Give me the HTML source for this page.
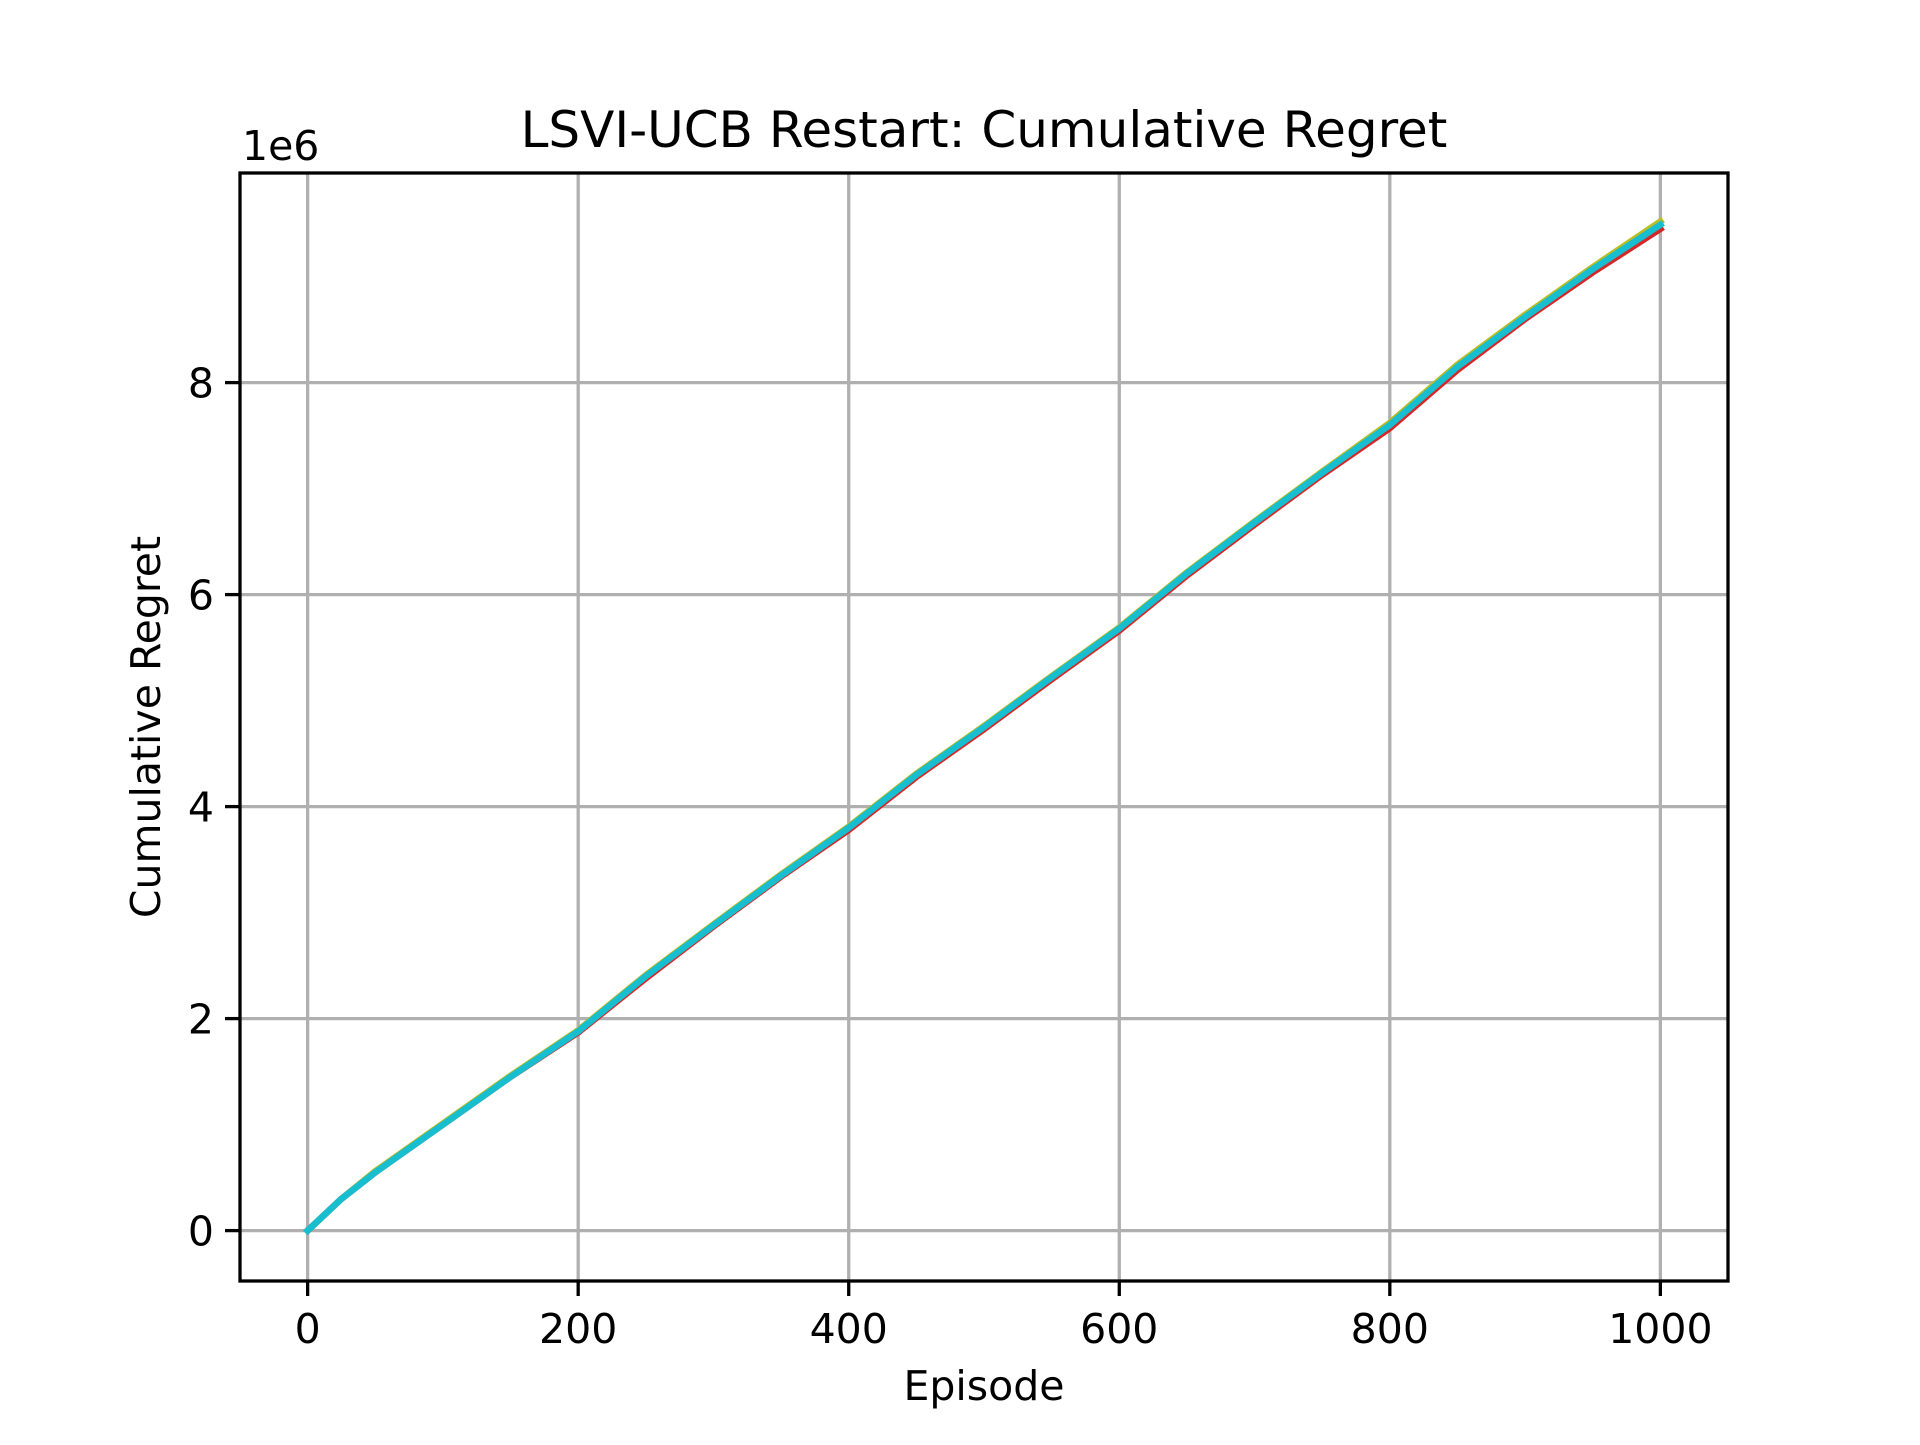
<!DOCTYPE html>
<html><head><meta charset="utf-8"><style>
html,body{margin:0;padding:0;background:#fff;}
svg text{font-family:"DejaVu Sans","Liberation Sans",sans-serif;fill:#000;}
</style></head><body>
<svg id="chart" width="1920" height="1440" viewBox="0 0 1920 1440" xmlns="http://www.w3.org/2000/svg">
<rect width="1920" height="1440" fill="#fff"/>
<g id="grid"></g>
<g id="lines"></g>
<rect x="240" y="173" width="1488" height="1108" fill="none" stroke="#000" stroke-width="3.3"/>
<g id="ticks"></g>
<text x="984" y="147" font-size="50" text-anchor="middle">LSVI-UCB Restart: Cumulative Regret</text>
<text x="242" y="160" font-size="41">1e6</text>
<text x="984" y="1400" font-size="41" text-anchor="middle">Episode</text>
<text x="160" y="727" font-size="41" text-anchor="middle" transform="rotate(-90 160 727)">Cumulative Regret</text>
</svg>
<script>
const episodes = [0,25,50,100,150,200,250,300,350,400,450,500,550,600,650,700,750,800,850,900,950,1000];
const seriesA = [0,0.30,0.55,1.00,1.45,1.87,2.38,2.87,3.34,3.78,4.28,4.73,5.20,5.66,6.18,6.66,7.13,7.57,8.12,8.60,9.04,9.45];
const seriesB = [0,0.30,0.56,1.01,1.46,1.89,2.41,2.89,3.36,3.81,4.31,4.76,5.23,5.69,6.21,6.69,7.16,7.62,8.17,8.64,9.09,9.52];
const seriesC = [0,0.30,0.55,1.00,1.45,1.88,2.40,2.88,3.35,3.80,4.30,4.75,5.22,5.68,6.20,6.68,7.15,7.60,8.15,8.62,9.07,9.49];
const seriesNames = ['run-a','run-b','run-c'];
const seriesData = [seriesA, seriesB, seriesC];
const seriesColors = ['#d62728','#bcbd22','#17becf'];
const xTicks = [0,200,400,600,800,1000];
const yTicks = [0,2,4,6,8];
const NS='http://www.w3.org/2000/svg';
const X0=240,X1=1728,Y0=173,Y1=1281;
function xs(v){return X0+(v+50)/1100*(X1-X0);}
function ys(v){return 1230.6-v*106.0;}
function mk(tag,attrs,parent){const e=document.createElementNS(NS,tag);for(const k in attrs)e.setAttribute(k,attrs[k]);parent.appendChild(e);return e;}
const grid=document.getElementById('grid'),ticks=document.getElementById('ticks'),lines=document.getElementById('lines');
xTicks.forEach(t=>{
  const x=xs(t);
  const g=mk('line',{x1:x,x2:x,y1:Y0,y2:Y1,stroke:'#b0b0b0','stroke-width':3.3},grid);
  
  
  const tk=mk('line',{x1:x,x2:x,y1:Y1,y2:Y1+15,stroke:'#000','stroke-width':3.3},ticks);
  
  
  const tx=mk('text',{x:x,y:Y1+62,'font-size':41,'text-anchor':'middle'},ticks);
  tx.textContent=t;
  
  
});
yTicks.forEach(t=>{
  const y=ys(t);
  const g=mk('line',{x1:X0,x2:X1,y1:y,y2:y,stroke:'#b0b0b0','stroke-width':3.3},grid);
  
  
  const tk=mk('line',{x1:X0-15,x2:X0,y1:y,y2:y,stroke:'#000','stroke-width':3.3},ticks);
  
  
  const tx=mk('text',{x:X0-26,y:y+15,'font-size':41,'text-anchor':'end'},ticks);
  tx.textContent=t;
  
  
});
seriesData.forEach((s,i)=>{
  const pts=episodes.map((e,j)=>xs(e).toFixed(1)+','+ys(s[j]).toFixed(1)).join(' ');
  const p=mk('polyline',{points:pts,fill:'none',stroke:seriesColors[i],'stroke-width':6.5,'stroke-linejoin':'round','stroke-linecap':'square'},lines);
  
  
});
</script>
</body></html>
